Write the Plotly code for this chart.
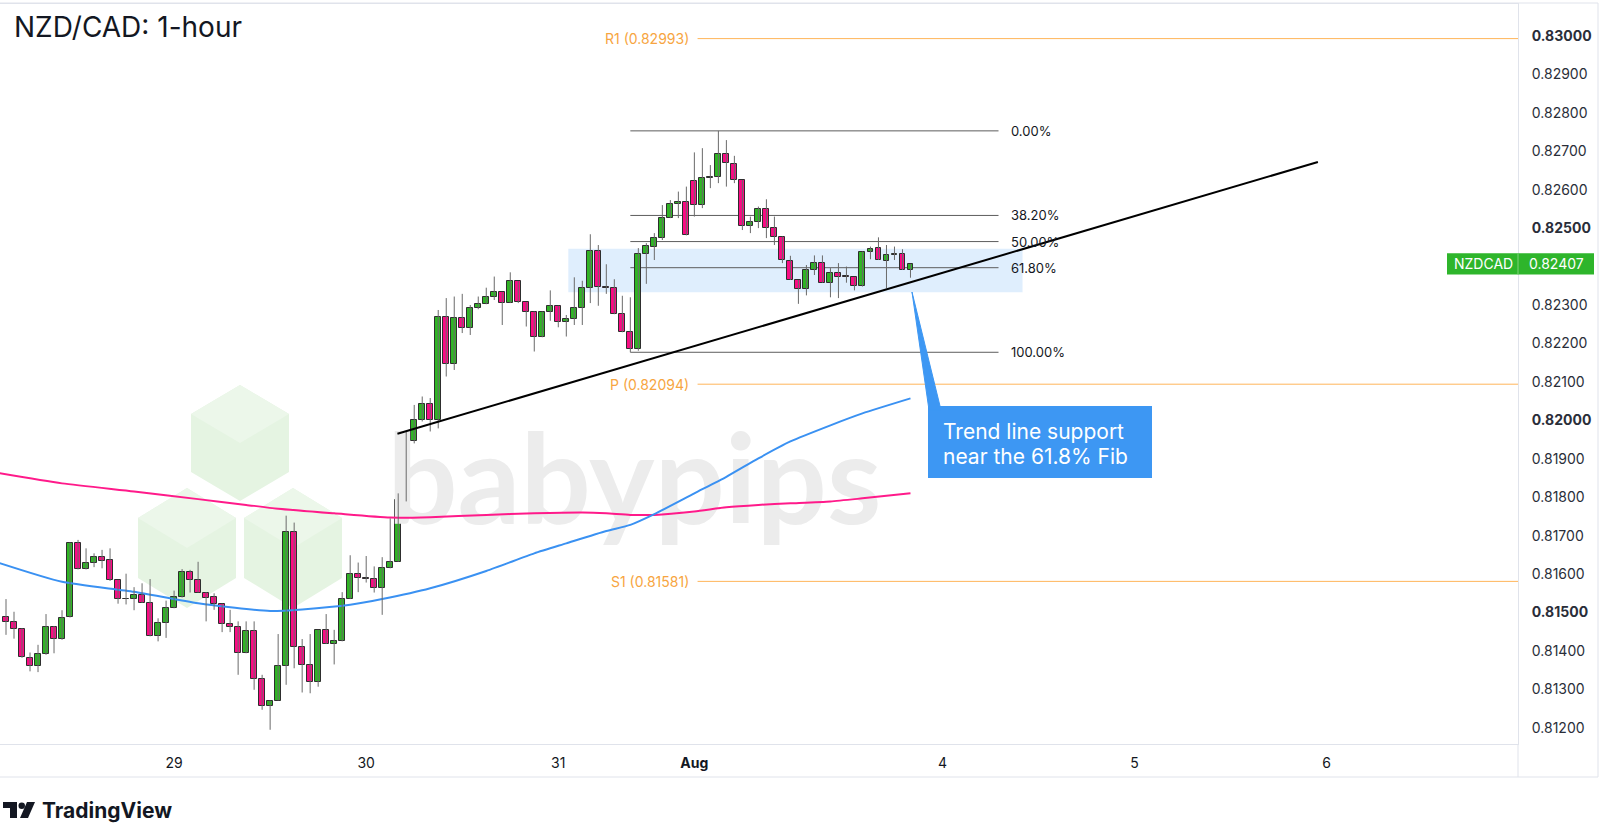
import plotly.graph_objects as go

# NZD/CAD 1-hour candles
opens = [0.81488, 0.81475, 0.81457, 0.81382, 0.81362, 0.81392, 0.81463, 0.81431, 0.81488, 0.81680,
         0.81614, 0.81628, 0.81644, 0.81636, 0.81584, 0.81535, 0.81534, 0.81545, 0.81526, 0.81440,
         0.81472, 0.81511, 0.81540, 0.81606, 0.81585, 0.81552, 0.81540, 0.81523, 0.81470, 0.81463,
         0.81394, 0.81452, 0.81327, 0.81257, 0.81271, 0.81361, 0.81709, 0.81411, 0.81363, 0.81320,
         0.81455, 0.81418, 0.81425, 0.81535, 0.81600, 0.81591, 0.81588, 0.81563, 0.81615, 0.81632,
         0.81793, 0.81946, 0.82001, 0.82043, 0.82001, 0.82268, 0.82146, 0.82266, 0.82240, 0.82293,
         0.82302, 0.82322, 0.82333, 0.82305, 0.82362, 0.82307, 0.82283, 0.82216, 0.82281, 0.82298,
         0.82257, 0.82263, 0.82293, 0.82344, 0.82441, 0.82348, 0.82345, 0.82276, 0.82229, 0.82185,
         0.82433, 0.82452, 0.82474, 0.82527, 0.82562, 0.82569, 0.82623, 0.82559, 0.82630, 0.82634,
         0.82693, 0.82667, 0.82624, 0.82506, 0.82517, 0.82549, 0.82500, 0.82478, 0.82415, 0.82365,
         0.82341, 0.82391, 0.82409, 0.82358, 0.82384, 0.82374, 0.82372, 0.82350, 0.82439, 0.82448,
         0.82415, 0.82430, 0.82432, 0.82391]
highs = [0.81535, 0.81502, 0.81459, 0.81396, 0.81416, 0.81496, 0.81465, 0.81506, 0.81682, 0.81689,
         0.81667, 0.81654, 0.81663, 0.81667, 0.81585, 0.81601, 0.81566, 0.81576, 0.81587, 0.81485,
         0.81531, 0.81557, 0.81613, 0.81611, 0.81632, 0.81553, 0.81550, 0.81523, 0.81507, 0.81477,
         0.81477, 0.81477, 0.81338, 0.81271, 0.81444, 0.81752, 0.81734, 0.81431, 0.81444, 0.81455,
         0.81496, 0.81455, 0.81553, 0.81649, 0.81630, 0.81647, 0.81620, 0.81644, 0.81745, 0.81810,
         0.81971, 0.82040, 0.82062, 0.82058, 0.82287, 0.82318, 0.82322, 0.82329, 0.82300, 0.82322,
         0.82345, 0.82374, 0.82333, 0.82385, 0.82362, 0.82307, 0.82283, 0.82283, 0.82338, 0.82298,
         0.82274, 0.82372, 0.82363, 0.82484, 0.82456, 0.82406, 0.82367, 0.82324, 0.82320, 0.82448,
         0.82461, 0.82487, 0.82560, 0.82573, 0.82595, 0.82608, 0.82697, 0.82708, 0.82664, 0.82753,
         0.82729, 0.82688, 0.82625, 0.82530, 0.82556, 0.82575, 0.82530, 0.82478, 0.82428, 0.82365,
         0.82404, 0.82429, 0.82429, 0.82396, 0.82409, 0.82400, 0.82372, 0.82439, 0.82452, 0.82476,
         0.82456, 0.82452, 0.82445, 0.82407]
lows = [0.81442, 0.81432, 0.81382, 0.81347, 0.81345, 0.81390, 0.81394, 0.81429, 0.81487, 0.81612,
        0.81612, 0.81618, 0.81615, 0.81582, 0.81523, 0.81521, 0.81506, 0.81525, 0.81438, 0.81425,
        0.81434, 0.81511, 0.81539, 0.81552, 0.81552, 0.81477, 0.81507, 0.81449, 0.81449, 0.81338,
        0.81394, 0.81299, 0.81247, 0.81195, 0.81271, 0.81312, 0.81355, 0.81292, 0.81290, 0.81307,
        0.81418, 0.81365, 0.81425, 0.81535, 0.81553, 0.81578, 0.81552, 0.81494, 0.81615, 0.81632,
        0.81789, 0.81940, 0.81997, 0.81971, 0.81979, 0.82114, 0.82131, 0.82227, 0.82222, 0.82289,
        0.82302, 0.82313, 0.82248, 0.82305, 0.82305, 0.82244, 0.82179, 0.82216, 0.82259, 0.82242,
        0.82218, 0.82248, 0.82248, 0.82305, 0.82298, 0.82329, 0.82276, 0.82229, 0.82177, 0.82181,
        0.82355, 0.82417, 0.82469, 0.82526, 0.82526, 0.82481, 0.82530, 0.82552, 0.82604, 0.82617,
        0.82608, 0.82617, 0.82495, 0.82487, 0.82500, 0.82474, 0.82456, 0.82409, 0.82365, 0.82303,
        0.82325, 0.82378, 0.82358, 0.82320, 0.82318, 0.82358, 0.82338, 0.82348, 0.82419, 0.82417,
        0.82344, 0.82417, 0.82391, 0.82371]
closes = [0.81475, 0.81457, 0.81384, 0.81362, 0.81392, 0.81463, 0.81431, 0.81487, 0.81680, 0.81614,
          0.81628, 0.81644, 0.81635, 0.81584, 0.81534, 0.81534, 0.81545, 0.81526, 0.81440, 0.81472,
          0.81511, 0.81540, 0.81606, 0.81585, 0.81552, 0.81539, 0.81523, 0.81470, 0.81463, 0.81394,
          0.81452, 0.81327, 0.81257, 0.81271, 0.81361, 0.81709, 0.81411, 0.81363, 0.81320, 0.81455,
          0.81418, 0.81425, 0.81535, 0.81600, 0.81591, 0.81588, 0.81563, 0.81615, 0.81632, 0.81793,
          0.81946, 0.82001, 0.82043, 0.82001, 0.82268, 0.82146, 0.82266, 0.82240, 0.82293, 0.82302,
          0.82322, 0.82333, 0.82305, 0.82362, 0.82307, 0.82283, 0.82216, 0.82281, 0.82298, 0.82257,
          0.82263, 0.82293, 0.82344, 0.82441, 0.82348, 0.82345, 0.82276, 0.82229, 0.82185, 0.82432,
          0.82454, 0.82474, 0.82527, 0.82562, 0.82569, 0.82481, 0.82559, 0.82630, 0.82634, 0.82693,
          0.82669, 0.82624, 0.82506, 0.82515, 0.82549, 0.82500, 0.82478, 0.82417, 0.82365, 0.82341,
          0.82390, 0.82409, 0.82358, 0.82384, 0.82374, 0.82373, 0.82350, 0.82437, 0.82445, 0.82417,
          0.82430, 0.82432, 0.82391, 0.82407]
bars = list(range(len(closes)))

# moving averages (read at a few bars)
blue_ma_x = [-1, 7, 16, 24, 33, 37, 43, 47, 53, 60, 66, 70, 75, 78, 81, 86, 90, 94, 98, 103, 107, 113]
blue_ma_y = [0.81630, 0.81580, 0.81554, 0.81524, 0.81504, 0.81508, 0.81520, 0.81535, 0.81563, 0.81608,
             0.81654, 0.81680, 0.81712, 0.81728, 0.81756, 0.81810, 0.81853, 0.81901, 0.81945, 0.81987,
             0.82018, 0.82057]
pink_ma_x = [-1, 7, 16, 24, 30, 34, 41, 48, 53, 60, 66, 72, 75, 78, 81, 86, 90, 94, 98, 103, 107, 113]
pink_ma_y = [0.81863, 0.81836, 0.81815, 0.81795, 0.81780, 0.81770, 0.81758, 0.81747, 0.81748, 0.81754,
             0.81758, 0.81760, 0.81758, 0.81754, 0.81754, 0.81763, 0.81774, 0.81780, 0.81784, 0.81789,
             0.81797, 0.81810]

# pivot levels
pivot_names = ["R1", "P", "S1"]
pivot_values = [0.82993, 0.82094, 0.81581]

# fibonacci retracement (swing high / swing low)
fib_high = 0.82753
fib_low = 0.82177
fib_ratios = [0.0, 0.382, 0.5, 0.618, 1.0]
fib_labels = ["0.00%", "38.20%", "50.00%", "61.80%", "100.00%"]

# trend line end points (bar, price)
trend_x = [48.9, 163.9]
trend_y = [0.81965, 0.82672]

# support zone
zone_low, zone_high = 0.82333, 0.82446

# axis ticks
day_ticks = [21, 45, 69, 86, 117, 141, 165]
day_labels = ["29", "30", "31", "<b>Aug</b>", "4", "5", "6"]
price_ticks = [0.812, 0.813, 0.814, 0.815, 0.816, 0.817, 0.818, 0.819, 0.820, 0.821,
               0.822, 0.823, 0.825, 0.826, 0.827, 0.828, 0.829, 0.830]

FONT = "Inter"
W, H = 1600, 826
PL, PR, PT, PB = 0, 1518, 4, 744   # plot area in pixels
UP, DOWN = "#2fb524", "#fc0a84"


def px(x, y):
    # pixel -> paper coords
    return x / (PR - PL), (PB - y) / (PB - PT)


def path(points):
    s = ""
    for k, (x, y) in enumerate(points):
        u, v = px(x, y)
        s += ("M" if k == 0 else "L") + f"{u:.5f},{v:.5f} "
    return s + "Z"


fig = go.Figure()

# watermark text behind everything
fig.add_trace(go.Scatter(
    x=[78.5], y=[0.81811], mode="text", text=["babypips"],
    textfont=dict(family="Lato", size=124, color="#ececec", weight="bold"),
    hoverinfo="skip", showlegend=False))

fig.add_trace(go.Scatter(
    x=pink_ma_x, y=pink_ma_y, mode="lines", line=dict(color="#ff1a8a", width=2, shape="spline", smoothing=0.6),
    hoverinfo="skip", showlegend=False))
fig.add_trace(go.Scatter(
    x=blue_ma_x, y=blue_ma_y, mode="lines", line=dict(color="#3a91f2", width=2, shape="spline", smoothing=0.6),
    hoverinfo="skip", showlegend=False))

# candles: wicks then bodies
wick_x, wick_y = [], []
for i, h, l in zip(bars, highs, lows):
    wick_x += [i, i, None]
    wick_y += [l, h, None]
fig.add_trace(go.Scatter(x=wick_x, y=wick_y, mode="lines", line=dict(color="#6a6a6a", width=1),
                         hoverinfo="skip", showlegend=False))

body_base = [min(o, c) for o, c in zip(opens, closes)]
body_len = [max(abs(c - o), 0.000015) for o, c in zip(opens, closes)]
body_col = [UP if c >= o else DOWN for o, c in zip(opens, closes)]
fig.add_trace(go.Bar(x=bars, y=body_len, base=body_base, width=0.74,
                     marker=dict(color=body_col, line=dict(color="#2e2e2e", width=1)),
                     hoverinfo="skip", showlegend=False))

shapes = []
annotations = []

# hexagon logo watermark
hw = 49
for cx, cy, r in [(240, 443, 58), (187, 548, 60), (293, 548, 60)]:
    shapes.append(dict(type="path", xref="paper", yref="paper", layer="below",
                       path=path([(cx, cy - r), (cx + hw, cy - r / 2), (cx + hw, cy + r / 2),
                                  (cx, cy + r), (cx - hw, cy + r / 2), (cx - hw, cy - r / 2)]),
                       fillcolor="#e5f4e2", line=dict(width=0)))
    shapes.append(dict(type="path", xref="paper", yref="paper", layer="below",
                       path=path([(cx, cy - r), (cx + hw, cy - r / 2), (cx, cy), (cx - hw, cy - r / 2)]),
                       fillcolor="#ecf7ea", line=dict(width=0)))

# support zone
shapes.append(dict(type="rect", xref="x", yref="y", x0=70.25, x1=127, y0=zone_low, y1=zone_high,
                   fillcolor="rgba(41,140,240,0.15)", line=dict(width=0), layer="below"))

# fib levels
for ratio, lab in zip(fib_ratios, fib_labels):
    lvl = fib_high - ratio * (fib_high - fib_low)
    shapes.append(dict(type="line", xref="x", yref="y", x0=78, x1=124, y0=lvl, y1=lvl,
                       line=dict(color="#5d5d5d", width=1), layer="below"))
    annotations.append(dict(x=125.3, y=lvl, xref="x", yref="y", text=lab, showarrow=False,
                            xanchor="left", yanchor="middle",
                            font=dict(family=FONT, size=13, color="#131722")))

# pivots
for name, val in zip(pivot_names, pivot_values):
    shapes.append(dict(type="line", xref="x", yref="y", x0=86.4, x1=189, y0=val, y1=val,
                       line=dict(color="#ffb55a", width=1), layer="below"))
    annotations.append(dict(x=85.6, y=val, xref="x", yref="y", text=f"{name} ({val:.5f})", showarrow=False,
                            xanchor="right", yanchor="middle",
                            font=dict(family=FONT, size=14, color="#f7a541")))

# trend line
shapes.append(dict(type="line", xref="x", yref="y", x0=trend_x[0], x1=trend_x[1], y0=trend_y[0], y1=trend_y[1],
                   line=dict(color="#000000", width=2)))

# callout
bx0, bx1, by0, by1 = 930, 1150, 408, 476
u0, v0 = px(bx0, by1)
u1, v1 = px(bx1, by0)
shapes.append(dict(type="rect", xref="paper", yref="paper", x0=u0, x1=u1, y0=v0, y1=v1,
                   fillcolor="#3d97f3", line=dict(color="#3d97f3", width=4)))
shapes.append(dict(type="path", xref="paper", yref="paper",
                   path=path([(912, 292), (929, 410), (941, 410)]),
                   fillcolor="#3d97f3", line=dict(color="#3d97f3", width=1)))
tx, ty = px(941, 431)
annotations.append(dict(x=tx, y=ty, xref="paper", yref="paper", text="Trend line support", showarrow=False,
                        xanchor="left", yanchor="middle", font=dict(family=FONT, size=21, color="white")))
tx, ty = px(941, 456)
annotations.append(dict(x=tx, y=ty, xref="paper", yref="paper", text="near the 61.8% Fib", showarrow=False,
                        xanchor="left", yanchor="middle", font=dict(family=FONT, size=21, color="white")))

# last price label
last = closes[-1]
u0, _ = px(1447, 0)
u1, _ = px(1594, 0)
shapes.append(dict(type="rect", xref="paper", yref="y", x0=u0, x1=u1, y0=last - 0.000275, y1=last + 0.000275,
                   fillcolor="#2eb52b", line=dict(width=0)))
ux, _ = px(1518, 0)
shapes.append(dict(type="line", xref="paper", yref="y", x0=ux, x1=ux, y0=last - 0.000275, y1=last + 0.000275,
                   line=dict(color="#7fd27a", width=1)))
annotations.append(dict(x=px(1483, 0)[0], y=last, xref="paper", yref="y", text="NZDCAD", showarrow=False,
                        xanchor="center", yanchor="middle", font=dict(family=FONT, size=14, color="white")))
annotations.append(dict(x=px(1556, 0)[0], y=last, xref="paper", yref="y", text=f"{last:.5f}", showarrow=False,
                        xanchor="center", yanchor="middle", font=dict(family=FONT, size=14, color="white")))

# frame lines outside plot area
border = "#e0e3eb"
for (xa, ya, xb, yb) in [(0, 777, 1598, 777), (1518, 744, 1518, 777), (1598, 3, 1598, 777), (0, 3, 1598, 3)]:
    a, b = px(xa, ya)
    c, d = px(xb, yb)
    shapes.append(dict(type="line", xref="paper", yref="paper", x0=a, y0=b, x1=c, y1=d,
                       line=dict(color=border, width=1)))

# title
tx, ty = px(12, 27)
annotations.append(dict(x=tx, y=ty, xref="paper", yref="paper", text="NZD/CAD: 1-hour", showarrow=False,
                        xanchor="left", yanchor="middle", font=dict(family=FONT, size=28, color="#131722")))

# TradingView logo
for pts in [[(3, 802), (17, 802), (17, 818), (10, 818), (10, 808), (3, 808)],
            [(27, 802), (35, 802), (28, 818), (20, 818)]]:
    shapes.append(dict(type="path", xref="paper", yref="paper", path=path(pts),
                       fillcolor="#131722", line=dict(width=0)))
c0 = px(18.5, 802.5)
c1 = px(25, 809)
shapes.append(dict(type="circle", xref="paper", yref="paper", x0=c0[0], y0=c0[1], x1=c1[0], y1=c1[1],
                   fillcolor="#131722", line=dict(width=0)))
tx, ty = px(40, 810)
annotations.append(dict(x=tx, y=ty, xref="paper", yref="paper", text="<b>TradingView</b>", showarrow=False,
                        xanchor="left", yanchor="middle", font=dict(family=FONT, size=21, color="#131722")))

price_text = [f"<b>{p:.5f}</b>" if round(p * 1000) % 5 == 0 else f"{p:.5f}" for p in price_ticks]

fig.update_layout(
    width=W, height=H, autosize=False,
    margin=dict(l=PL, r=W - PR, t=PT, b=H - PB, pad=0),
    paper_bgcolor="white", plot_bgcolor="white",
    showlegend=False, bargap=0,
    shapes=shapes, annotations=annotations,
    xaxis=dict(range=[-0.75, 188.9], tickvals=day_ticks, ticktext=day_labels,
               showgrid=False, zeroline=False, showline=True, linecolor=border, mirror=True,
               ticks="", ticklabelstandoff=6,
               tickfont=dict(family=FONT, size=14, color="#131722")),
    yaxis=dict(range=[0.81158, 0.83083], side="right", tickvals=price_ticks, ticktext=price_text,
               showgrid=False, zeroline=False, showline=True, linecolor=border, mirror=True,
               ticks="", ticklabelstandoff=10,
               tickfont=dict(family=FONT, size=14, color="#2a2e39")),
)

# page body has an 8px default margin; drop it so the chart sits at the corner
fig.write_html("out.html", config={"displayModeBar": False},
               post_script="document.body.style.margin='0';")
